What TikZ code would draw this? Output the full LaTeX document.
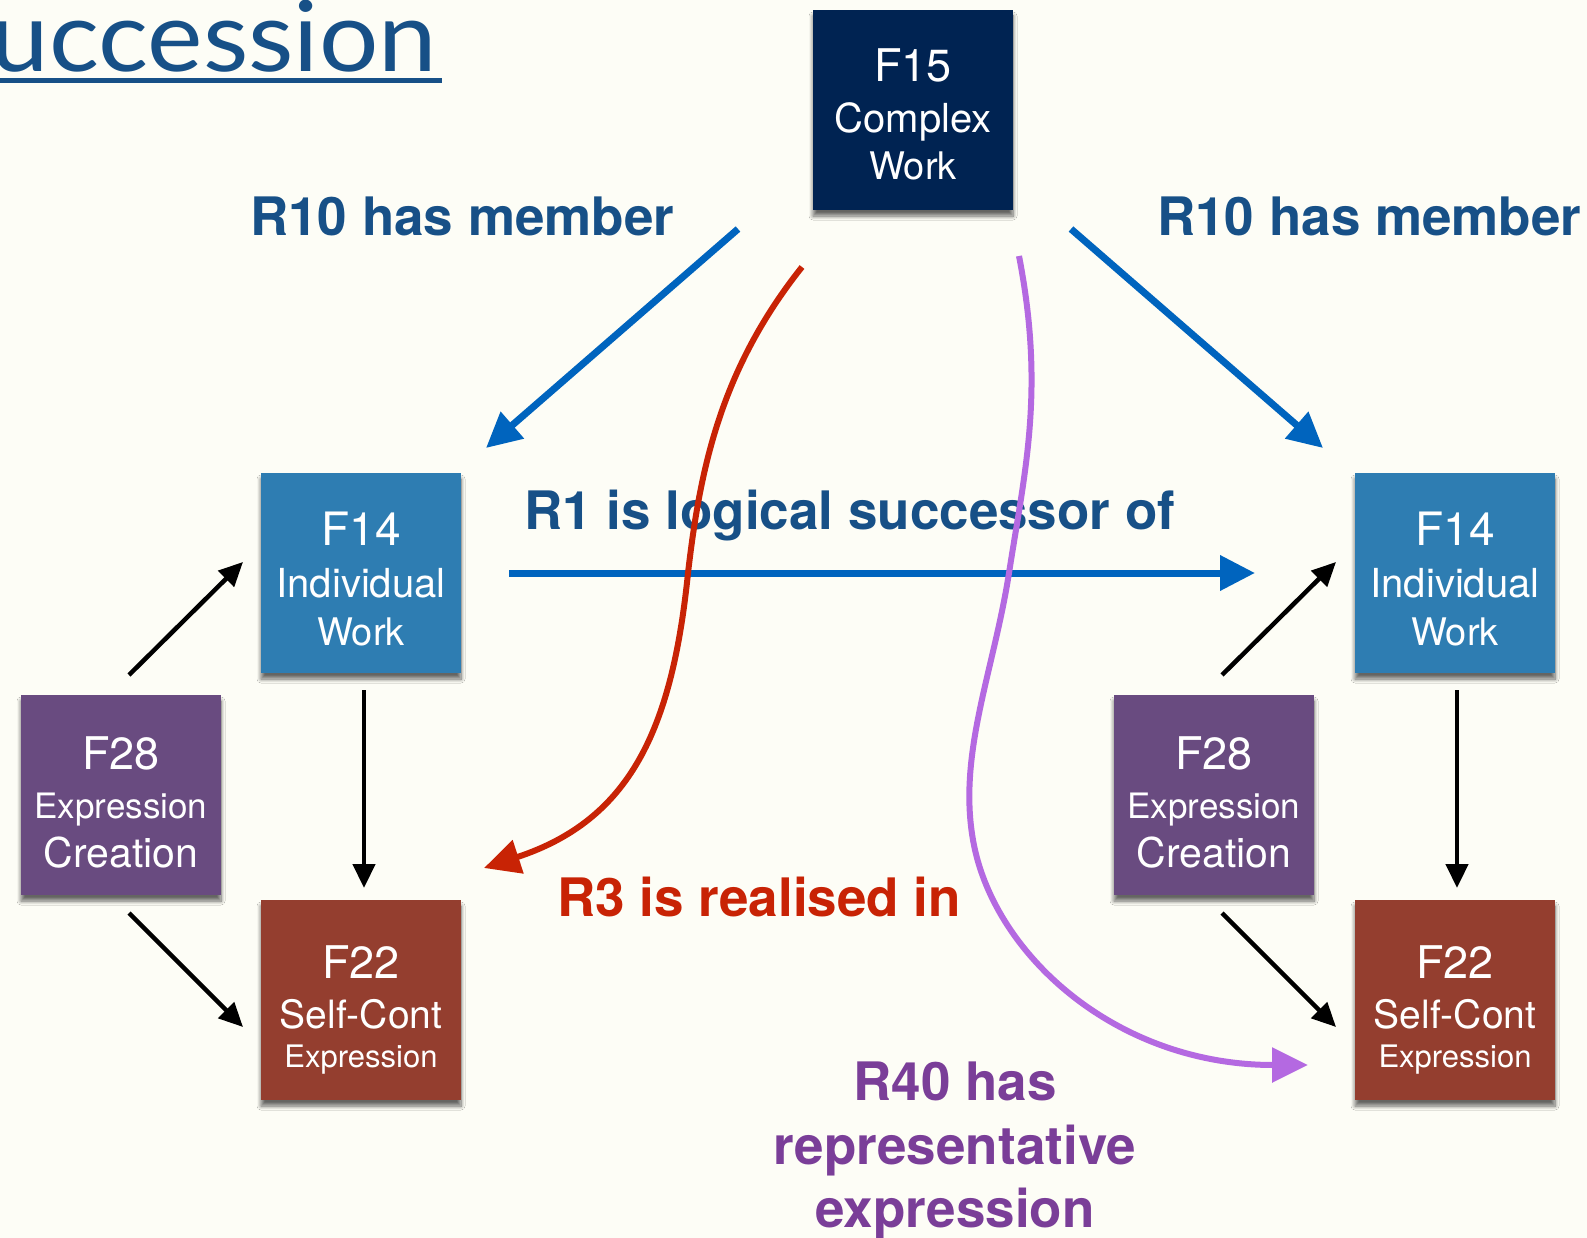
\documentclass[tikz,border=0pt]{standalone}
\usepackage{fontspec}
\setmainfont{TeX Gyre Heros}
\newfontfamily\titlefont{Lato}
\usetikzlibrary{arrows.meta,shadows,shadows.blur,calc}
\definecolor{bgcol}{RGB}{253,253,246}
\definecolor{bluearr}{RGB}{0,100,190}
\definecolor{bluetxt}{RGB}{23,80,135}
\definecolor{redarr}{RGB}{200,35,5}
\definecolor{purparr}{RGB}{180,105,225}
\definecolor{purptxt}{RGB}{122,62,152}
\definecolor{cFfifteen}{RGB}{0,35,82}
\definecolor{cFfourteen}{RGB}{46,125,178}
\definecolor{cFtwentyeight}{RGB}{105,75,128}
\definecolor{cFtwentytwo}{RGB}{148,62,47}
\newcommand{\fsz}[1]{\fontsize{#1}{#1}\selectfont}
\begin{document}
\begin{tikzpicture}[x=1pt,y=-1pt,
  fbox/.style={rectangle, minimum width=200pt, minimum height=200pt, inner sep=0pt,
    blur shadow={shadow xshift=0pt, shadow yshift=-6pt, shadow blur radius=4pt, shadow blur steps=8, shadow opacity=60}},
  btxt/.style={text=white, anchor=base, inner sep=0pt},
  lbl/.style={inner sep=0pt, font=\fsz{53}\bfseries},
  bluearrow/.style={draw=bluearr, line width=7pt, -{Triangle[length=35pt,width=34pt]}},
  blackarrow/.style={draw=black, line width=4.5pt, -{Triangle[length=24pt,width=22pt]}},
  redarrow/.style={draw=redarr, line width=6pt, -{Triangle[length=36pt,width=34pt]}},
  purparrow/.style={draw=purparr, line width=6pt, -{Triangle[length=36pt,width=34pt]}}
]
\useasboundingbox (0,0) rectangle (1587,1238);
\clip (0,0) rectangle (1587,1238);
\fill[bgcol] (0,0) rectangle (1587,1238);

% title
\node[inner sep=0pt, anchor=base east, text=bluetxt, font=\titlefont\fsz{98}] (title) at (437,72) {\scalebox{1.07}[1]{Succession}};
\draw[bluetxt, line width=5pt] (-10,80.5) -- (442,80.5);

% boxes
\node[fbox, fill=cFfifteen] (f15) at (913,110) {};
\node[fbox, fill=cFfourteen] (f14l) at (361,573) {};
\node[fbox, fill=cFfourteen] (f14r) at (1455,573) {};
\node[fbox, fill=cFtwentyeight] (f28l) at (121,795) {};
\node[fbox, fill=cFtwentyeight] (f28r) at (1214,795) {};
\node[fbox, fill=cFtwentytwo] (f22l) at (361,1000) {};
\node[fbox, fill=cFtwentytwo] (f22r) at (1455,1000) {};

% box texts
\node[btxt, font=\fsz{45}] (f15a) at ($(f15.center)+(0,-28)$) {F15};
\node[btxt, font=\fsz{40}] (f15b) at ($(f15.center)+(0,23)$) {Complex};
\node[btxt, font=\fsz{38}] (f15c) at ($(f15.center)+(0,70)$) {Work};

\foreach \b in {f14l,f14r}{
  \node[btxt, font=\fsz{46}] (\b a) at ($(\b.center)+(0,-28)$) {F14};
  \node[btxt, font=\fsz{40}] (\b b) at ($(\b.center)+(0,24)$) {Individual};
  \node[btxt, font=\fsz{38}] (\b c) at ($(\b.center)+(0,72)$) {Work};
}
\foreach \b in {f28l,f28r}{
  \node[btxt, font=\fsz{45}] (\b a) at ($(\b.center)+(0,-26)$) {F28};
  \node[btxt, font=\fsz{35}] (\b b) at ($(\b.center)+(0,23)$) {Expression};
  \node[btxt, font=\fsz{41}] (\b c) at ($(\b.center)+(0,72)$) {Creation};
}
\foreach \b in {f22l,f22r}{
  \node[btxt, font=\fsz{45}] (\b a) at ($(\b.center)+(0,-22)$) {F22};
  \node[btxt, font=\fsz{39}] (\b b) at ($(\b.center)+(0,28)$) {Self-Cont};
  \node[btxt, font=\fsz{31}] (\b c) at ($(\b.center)+(0,67)$) {Expression};
}

% labels
\node[lbl, text=bluetxt, anchor=base west] (r10l) at (250,236) {R10 has member};
\node[lbl, text=bluetxt, anchor=base west] (r10r) at (1157,236) {R10 has member};
\node[lbl, text=bluetxt, anchor=base west] (r1) at (524,529) {R1 is logical successor of};
\node[lbl, text=redarr, anchor=base west] (r3) at (557,916) {R3 is realised in};
\node[lbl, text=purptxt, anchor=base] (r40a) at (955,1100) {R40 has};
\node[lbl, text=purptxt, anchor=base] (r40b) at (955,1164) {representative};
\node[lbl, text=purptxt, anchor=base] (r40c) at (955,1227) {expression};

% connector end points
\coordinate (b1s) at (738,229);  \coordinate (b1e) at (486,448);
\coordinate (b2s) at (1071,229); \coordinate (b2e) at (1323,448);
\coordinate (b3s) at (509,573);  \coordinate (b3e) at (1255,573);
\coordinate (k1s) at (364,690);  \coordinate (k1e) at (364,888);
\coordinate (k2s) at (1457,690); \coordinate (k2e) at (1457,888);
\coordinate (k3s) at (129,675);  \coordinate (k3e) at (243,562);
\coordinate (k4s) at (129,913);  \coordinate (k4e) at (243,1027);
\coordinate (k5s) at (1222,675); \coordinate (k5e) at (1336,562);
\coordinate (k6s) at (1222,913); \coordinate (k6e) at (1336,1027);
\coordinate (rs) at (802,267);   \coordinate (rm) at (688,573);  \coordinate (re) at (484,868);
\coordinate (ps) at (1019,256);  \coordinate (pm1) at (1009,573); \coordinate (pm2) at (975,850); \coordinate (pe) at (1308,1065);

% blue arrows
\draw[bluearrow] (b1s) -- (b1e);
\draw[bluearrow] (b2s) -- (b2e);
\draw[bluearrow] (b3s) -- (b3e);

% black arrows
\draw[blackarrow] (k1s) -- (k1e);
\draw[blackarrow] (k2s) -- (k2e);
\draw[blackarrow] (k3s) -- (k3e);
\draw[blackarrow] (k4s) -- (k4e);
\draw[blackarrow] (k5s) -- (k5e);
\draw[blackarrow] (k6s) -- (k6e);

% curves
\draw[redarrow] (rs) .. controls (720,370) and (700,470) .. (rm)
  .. controls (672,730) and (630,820) .. (re);
\draw[purparrow] (ps) .. controls (1045,390) and (1025,470) .. (pm1)
  .. controls (993,675) and (955,760) .. (pm2)
  .. controls (1000,960) and (1120,1065) .. (pe);
\end{tikzpicture}
\end{document}
